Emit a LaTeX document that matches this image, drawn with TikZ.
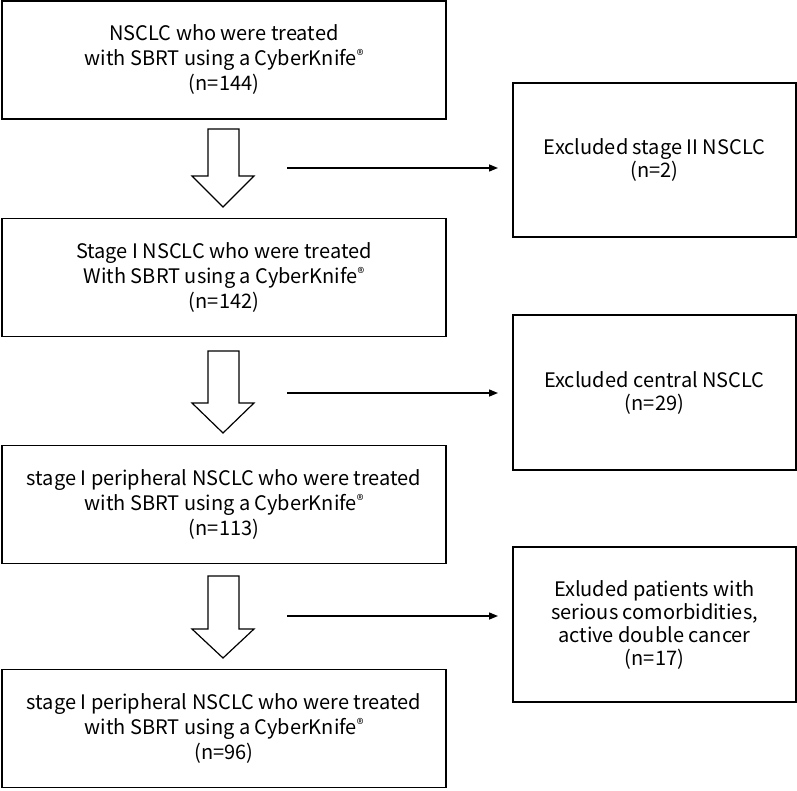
\documentclass[tikz,border=0pt]{standalone}
\usepackage{fontspec}
\setmainfont{Noto Sans CJK JP}
\usetikzlibrary{arrows.meta}
\newcommand{\regmark}{\smash{\raisebox{0.5ex}{\fontsize{14}{14}\selectfont ®}}}
\begin{document}
\begin{tikzpicture}[x=1pt,y=-1pt,
  mainbox/.style={draw, line width=1.4pt, minimum width=444pt, minimum height=118pt, align=center, font=\fontsize{20}{25}\selectfont, inner sep=0pt},
  sidebox/.style={draw, line width=1.4pt, minimum width=283pt, align=center, font=\fontsize{20}{23}\selectfont, inner sep=0pt},
  blockarrow/.style={draw, line width=1.2pt, fill=white},
  exarrow/.style={line width=1.4pt, -{Triangle[length=9pt,width=7pt]}}]
\useasboundingbox (0,0) rectangle (797,791);
\node[mainbox] (b1) at (224,60) {NSCLC who were treated\\with SBRT using a CyberKnife\regmark\\(n=144)};
\node[mainbox] (b2) at (224,277.5) {Stage I NSCLC who were treated\\With SBRT using a CyberKnife\regmark\\(n=142)};
\node[mainbox] (b3) at (224,504.5) {stage I peripheral NSCLC who were treated\\with SBRT using a CyberKnife\regmark\\(n=113)};
\node[mainbox] (b4) at (224,728.5) {stage I peripheral NSCLC who were treated\\with SBRT using a CyberKnife\regmark\\(n=96)};
\node[sidebox, minimum height=154pt] (r1) at (654.5,160) {Excluded stage II NSCLC\\(n=2)};
\node[sidebox, minimum height=155pt] (r2) at (654.5,392.5) {Excluded central NSCLC\\(n=29)};
\node[sidebox, minimum height=155pt] (r3) at (654.5,624.5) {Exluded patients with\\serious comorbidities,\\active double cancer\\(n=17)};
% block arrows
\foreach \t/\h/\p in {129/176/207, 351/403/433, 576/629/658}{
  \draw[blockarrow] (208,\t) -- (239,\t) -- (239,\h) -- (254,\h) -- (223,\p) -- (192,\h) -- (208,\h) -- cycle;
}
\coordinate (s1) at (287,168);
\coordinate (e1) at (498,168);
\coordinate (s2) at (287,393);
\coordinate (e2) at (498,393);
\coordinate (s3) at (287,616);
\coordinate (e3) at (498,616);
\draw[exarrow] (s1) -- (e1);
\draw[exarrow] (s2) -- (e2);
\draw[exarrow] (s3) -- (e3);
\end{tikzpicture}
\end{document}
